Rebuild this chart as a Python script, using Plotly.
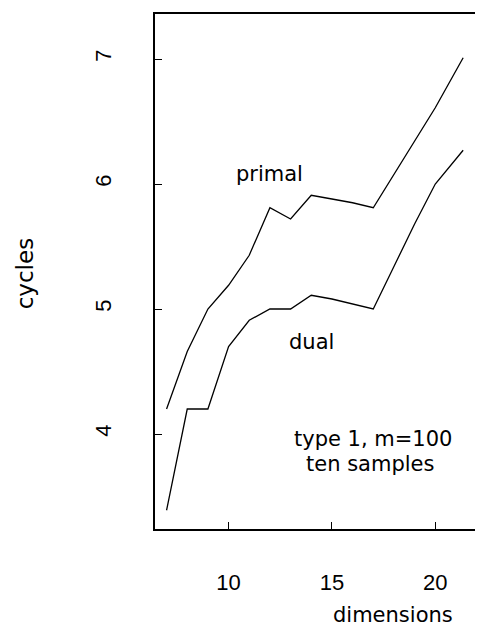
import plotly.graph_objects as go

dimensions = [7, 8, 9, 10, 11, 12, 13, 14, 15, 16, 17, 18, 19, 20, 21.35]
primal = [4.2, 4.66, 5.0, 5.19, 5.43, 5.81, 5.72, 5.91, 5.88, 5.85, 5.81, 6.08, 6.35, 6.61, 7.01]
dual = [3.39, 4.2, 4.2, 4.70, 4.91, 5.0, 5.0, 5.11, 5.08, 5.04, 5.0, 5.34, 5.68, 6.0, 6.27]
x_ticks = [10, 15, 20]
y_ticks = [4, 5, 6, 7]

fig = go.Figure()
fig.add_trace(go.Scatter(x=dimensions, y=primal, mode="lines",
                         line=dict(color="black", width=1.3), showlegend=False))
fig.add_trace(go.Scatter(x=dimensions, y=dual, mode="lines",
                         line=dict(color="black", width=1.3), showlegend=False))

ann_font = dict(family="DejaVu Sans", size=21, color="black")
fig.add_annotation(x=11.98, y=6.08, text="primal", showarrow=False, font=ann_font)
fig.add_annotation(x=14.0, y=4.74, text="dual", showarrow=False, font=ann_font)
fig.add_annotation(x=16.98, y=3.96, text="type 1, m=100", showarrow=False, font=ann_font)
fig.add_annotation(x=16.82, y=3.76, text="ten samples", showarrow=False, font=ann_font)
fig.add_annotation(xref="paper", yref="paper", x=0.713, y=-0.167, text="dimensions",
                   xanchor="center", yanchor="middle", showarrow=False,
                   font=dict(family="DejaVu Sans", size=21, color="black"))
fig.add_annotation(xref="paper", yref="paper", x=-0.39, y=0.496, text="cycles", textangle=-90,
                   xanchor="center", yanchor="middle", showarrow=False,
                   font=dict(family="DejaVu Sans", size=23, color="black"))

fig.update_layout(
    width=483, height=626,
    margin=dict(l=147, r=2, t=6, b=104.5, autoexpand=False),
    plot_bgcolor="white", paper_bgcolor="white",
    font=dict(family="Liberation Sans", size=22, color="black"),
)
fig.update_xaxes(range=[6.44, 22.6], tickvals=x_ticks, ticks="inside", ticklen=7,
                 tickcolor="black", showgrid=False, zeroline=False, showline=True,
                 linecolor="black", linewidth=1.5, mirror=True, ticklabelstandoff=33)
fig.update_yaxes(range=[3.24, 7.36], tickvals=y_ticks, ticks="inside", ticklen=7,
                 tickcolor="black", showgrid=False, zeroline=False, showline=True,
                 linecolor="black", linewidth=1.5, mirror=True, tickangle=-90,
                 ticklabelstandoff=33)

fig.write_html("out.html")
